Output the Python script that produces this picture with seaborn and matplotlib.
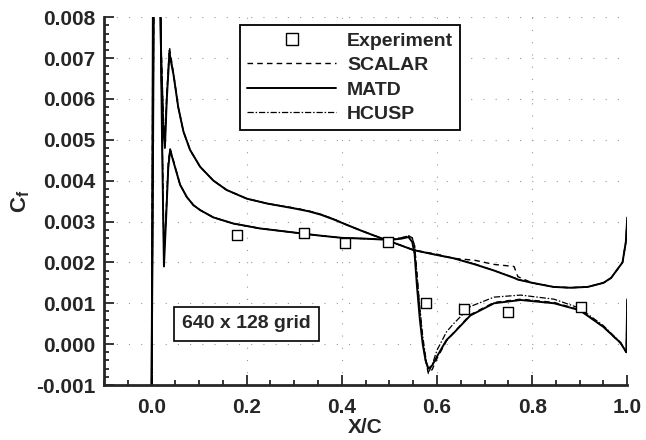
import numpy as np
import matplotlib
matplotlib.use("Agg")
import matplotlib.pyplot as plt
from matplotlib.lines import Line2D
from matplotlib.ticker import MultipleLocator, FormatStrFormatter
import seaborn as sns

sns.set_style("ticks")
plt.rcParams["font.family"] = ["Liberation Sans", "DejaVu Sans"]
plt.rcParams["font.weight"] = "bold"
plt.rcParams["axes.unicode_minus"] = False
plt.rcParams["mathtext.fontset"] = "custom"
plt.rcParams["mathtext.rm"] = "Liberation Sans"
plt.rcParams["mathtext.bf"] = "Liberation Sans:bold"

# experiment
exp_x = [0.18, 0.32, 0.407, 0.498, 0.576, 0.656, 0.75, 0.902]
exp_cf = [0.00267, 0.00272, 0.00247, 0.0025, 0.00101, 0.00086, 0.00079, 0.00092]

# upper surface (shock side), shared x stations
up_x = [0.0, 0.001, 0.003, 0.010, 0.018, 0.022, 0.026, 0.031, 0.035, 0.039,
        0.049, 0.06, 0.074, 0.088, 0.102, 0.13, 0.172, 0.228, 0.30, 0.35,
        0.40, 0.45, 0.50, 0.525, 0.54, 0.548, 0.553, 0.558, 0.564, 0.570,
        0.576, 0.582, 0.59, 0.60, 0.62, 0.635, 0.67, 0.72, 0.776, 0.846,
        0.90, 0.95, 0.986, 0.998, 1.0]
up_matd = [-0.0012, 0.0015, 0.0090, 0.0095, 0.0090, 0.0050, 0.0019, 0.0032, 0.0043, 0.00475,
           0.00434, 0.0039, 0.0036, 0.0034, 0.00328, 0.0031, 0.00295, 0.00283, 0.00273, 0.00266,
           0.0026, 0.00258, 0.00255, 0.00258, 0.00262, 0.0025, 0.0022, 0.0014, 0.0006, 0.0000,
           -0.0004, -0.0006, -0.00052, -0.0003, 0.0001, 0.00027, 0.0007, 0.0010, 0.00108, 0.0010,
           0.00083, 0.00042, 0.00003, -0.0002, 0.0011]
up_scalar = [-0.0012, 0.0016, 0.0091, 0.0095, 0.0092, 0.0054, 0.0021, 0.0033, 0.0044, 0.00478,
             0.00436, 0.0039, 0.0036, 0.0034, 0.00328, 0.0031, 0.00295, 0.00283, 0.00273, 0.00266,
             0.0026, 0.00258, 0.00256, 0.0026, 0.00265, 0.0026, 0.0024, 0.0017, 0.0008, 0.0001,
             -0.0004, -0.00072, -0.00062, -0.00035, 0.00008, 0.00028, 0.00072, 0.00102, 0.0011, 0.00102,
             0.00084, 0.00042, 0.00002, -0.0002, 0.0011]
up_hcusp = [-0.0012, 0.0016, 0.0091, 0.0095, 0.0092, 0.0054, 0.0021, 0.0033, 0.0044, 0.00478,
            0.00436, 0.0039, 0.0036, 0.0034, 0.00328, 0.0031, 0.00295, 0.00283, 0.00273, 0.00266,
            0.0026, 0.00258, 0.00256, 0.0026, 0.00265, 0.0026, 0.0024, 0.0017, 0.0009, 0.0002,
            -0.0003, -0.0007, -0.0005, -0.00015, 0.0003, 0.0005, 0.00092, 0.00115, 0.0012, 0.0011,
            0.00088, 0.00045, 0.00004, -0.0002, 0.0011]

# lower surface, shared x stations
lo_x = [0.0, 0.002, 0.005, 0.012, 0.017, 0.021, 0.025, 0.028, 0.032, 0.0375,
        0.046, 0.056, 0.067, 0.081, 0.102, 0.13, 0.158, 0.20, 0.243, 0.30,
        0.33, 0.355, 0.383, 0.41, 0.44, 0.467, 0.50, 0.551, 0.60, 0.635,
        0.68, 0.72, 0.762, 0.77, 0.80, 0.845, 0.88, 0.917, 0.95, 0.966,
        0.99, 0.997, 1.0]
lo_matd = [-0.0012, 0.0025, 0.0090, 0.0095, 0.0090, 0.0065, 0.0052, 0.0048, 0.0060, 0.0071,
           0.0066, 0.0058, 0.0052, 0.00475, 0.00434, 0.0040, 0.00377, 0.00356, 0.00344, 0.00332,
           0.00325, 0.00317, 0.00305, 0.00292, 0.00278, 0.00266, 0.00252, 0.0023, 0.00218, 0.0021,
           0.00195, 0.0018, 0.00162, 0.00158, 0.0015, 0.0014, 0.00138, 0.0014, 0.0015, 0.00162,
           0.0020, 0.0025, 0.0031]
lo_scalar = [-0.0012, 0.0026, 0.0092, 0.0095, 0.0091, 0.0069, 0.0055, 0.0049, 0.0061, 0.00727,
             0.00664, 0.0058, 0.0052, 0.00475, 0.00434, 0.0040, 0.00377, 0.00356, 0.00344, 0.00333,
             0.00326, 0.00318, 0.00306, 0.00292, 0.00278, 0.00266, 0.00252, 0.0023, 0.0022, 0.0021,
             0.00205, 0.00195, 0.0019, 0.00165, 0.0015, 0.0014, 0.00138, 0.0014, 0.0015, 0.00162,
             0.0020, 0.0025, 0.0031]
lo_hcusp = [-0.0012, 0.0026, 0.0092, 0.0095, 0.0091, 0.0069, 0.0055, 0.0049, 0.0061, 0.0072,
            0.0066, 0.0058, 0.0052, 0.00475, 0.00434, 0.0040, 0.00377, 0.00356, 0.00344, 0.00333,
            0.00326, 0.00318, 0.00306, 0.00292, 0.00278, 0.00266, 0.00252, 0.0023, 0.00218, 0.0021,
            0.00196, 0.0018, 0.00163, 0.00158, 0.0015, 0.0014, 0.00138, 0.0014, 0.0015, 0.00162,
            0.0020, 0.0025, 0.0031]

fig, ax = plt.subplots(figsize=(6.46, 4.40), dpi=100)
fig.subplots_adjust(left=0.161, right=0.971, bottom=0.125, top=0.961)

dash = (0, (4, 3))
dashdot = (0, (5, 1.5, 1.2, 1.5))
for xs, ys in [(up_x, up_matd), (lo_x, lo_matd)]:
    sns.lineplot(x=xs, y=ys, sort=False, estimator=None, color="black", lw=1.4, ax=ax)
for xs, ys in [(up_x, up_scalar), (lo_x, lo_scalar)]:
    sns.lineplot(x=xs, y=ys, sort=False, estimator=None, color="black", lw=1.0, linestyle=dash, ax=ax)
for xs, ys in [(up_x, up_hcusp), (lo_x, lo_hcusp)]:
    sns.lineplot(x=xs, y=ys, sort=False, estimator=None, color="black", lw=0.9, linestyle=dashdot, ax=ax)

sns.scatterplot(x=exp_x, y=exp_cf, marker="s", s=60, facecolor="white",
                edgecolor="black", linewidth=1.0, zorder=5, ax=ax)

ax.set_xlim(-0.1, 1.0)
ax.set_ylim(-0.001, 0.008)
ax.xaxis.set_major_locator(MultipleLocator(0.2))
ax.xaxis.set_minor_locator(MultipleLocator(0.05))
ax.yaxis.set_major_locator(MultipleLocator(0.001))
ax.yaxis.set_minor_locator(MultipleLocator(0.0002))
ax.xaxis.set_major_formatter(FormatStrFormatter("%.1f"))
ax.yaxis.set_major_formatter(FormatStrFormatter("%.3f"))
ax.tick_params(which="both", direction="in", width=1.3)
ax.tick_params(which="major", length=7, labelsize=15, pad=6)
ax.tick_params(which="minor", length=3.5)
ax.tick_params(axis="x", which="major", pad=9)
ax.grid(True, which="major", color="0.6", linestyle=(0, (1, 10)), lw=0.8)

sns.despine(ax=ax)
for side in ["left", "bottom"]:
    ax.spines[side].set_linewidth(2)

ax.set_xlabel("X/C", fontsize=15, fontweight="bold", labelpad=1)
ax.set_ylabel(r"$\mathbf{C_f}$", fontsize=16, labelpad=3)

handles = [
    Line2D([], [], marker="s", markersize=8, markerfacecolor="white", markeredgecolor="black", linestyle="none"),
    Line2D([], [], color="black", lw=1.0, linestyle=dash),
    Line2D([], [], color="black", lw=1.4),
    Line2D([], [], color="black", lw=0.9, linestyle=dashdot),
]
labels = ["Experiment", "SCALAR", "MATD", "HCUSP"]
leg = ax.legend(handles, labels, loc="upper left", bbox_to_anchor=(0.26, 0.978),
                fontsize=14, frameon=True, fancybox=False, framealpha=1,
                edgecolor="black", handlelength=4.6, handletextpad=0.55,
                labelspacing=0.35, borderpad=0.35, borderaxespad=0)
leg.get_frame().set_linewidth(1.3)

ax.text(0.272, 0.166, "640 x 128 grid", transform=ax.transAxes, fontsize=14,
        fontweight="bold", ha="center", va="center",
        bbox=dict(boxstyle="square,pad=0.42", fc="white", ec="black", lw=1.2))

fig.savefig("out.png", dpi=100)
